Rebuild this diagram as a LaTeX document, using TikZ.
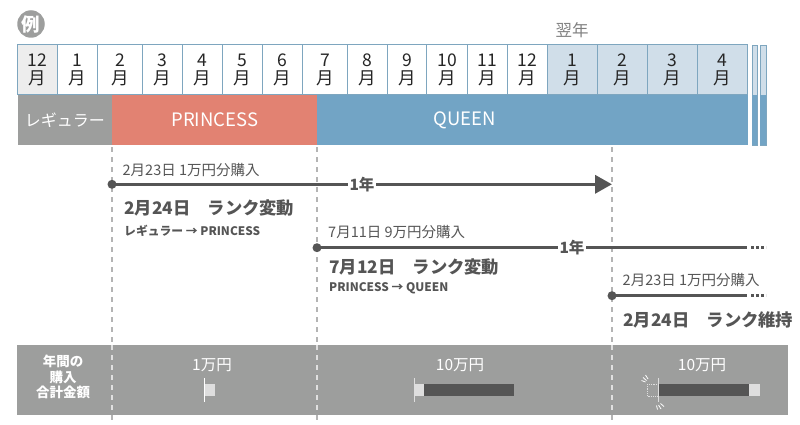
\documentclass[tikz,border=0pt]{standalone}
\usepackage{fontspec}
\setmainfont{Noto Sans CJK JP}
\usetikzlibrary{arrows.meta}
\definecolor{regular}{HTML}{9D9E9D}
\definecolor{princess}{HTML}{E28272}
\definecolor{queen}{HTML}{72A4C5}
\definecolor{cellline}{HTML}{7EA6BF}
\definecolor{nextyear}{HTML}{D0DEE9}
\definecolor{ink}{HTML}{555555}
\definecolor{guide}{HTML}{B4B4B4}
\tikzset{
  monthcell/.style={draw=cellline, line width=1pt, minimum height=50pt, inner sep=0pt, align=center,
    font=\fontsize{17.5}{18.5}\selectfont, text=black!85},
  rankbar/.style={anchor=north west, minimum height=50pt, inner sep=0pt, text=white,
    font=\fontsize{16}{18}\selectfont},
  buyline/.style={draw=ink, line width=3.5pt},
  buydot/.style={circle, fill=ink, minimum size=9pt, inner sep=0pt},
  yearlbl/.style={fill=white, inner sep=1.5pt, text=ink, font=\bfseries\fontsize{15.5}{16}\selectfont},
  small/.style={anchor=west, inner sep=0pt, text=ink, font=\fontsize{14.5}{15}\selectfont},
  rankchg/.style={anchor=west, inner sep=0pt, text=ink, font=\bfseries\fontsize{17.3}{18}\selectfont},
  rankpath/.style={anchor=west, inner sep=0pt, text=ink, font=\bfseries\fontsize{11.8}{12}\selectfont},
  sumlbl/.style={inner sep=0pt, text=white, font=\fontsize{15.5}{16}\selectfont},
  trail/.style={draw=ink, line width=3.5pt, dash pattern=on 2.5pt off 2.5pt}
}
\begin{document}
\begin{tikzpicture}[x=1pt, y=-1pt]
  \useasboundingbox (0,0) rectangle (800,425);
  % heading
  \node[circle, fill=regular, minimum size=27.5pt, inner sep=0pt, text=white, font=\bfseries\fontsize{18.5}{18.5}\selectfont] (ex) at (31,24) {例};
  \node[text=black!50, font=\fontsize{16.5}{17}\selectfont] (nxt) at (572,30) {翌年};
  % months
  \foreach \l/\r/\t/\c [count=\i] in {17.3/57.3/12/black!7, 57.3/97.3/1/white, 97.3/142.7/2/white,
      142.7/182.7/3/white, 182.7/222.7/4/white, 222.7/262.7/5/white, 262.7/302.7/6/white,
      302.7/347.7/7/white, 347.7/387.7/8/white, 387.7/426.7/9/white, 426.7/467.3/10/white,
      467.3/507.3/11/white, 507.3/547.3/12/white, 547.3/597.3/1/nextyear, 597.3/647.3/2/nextyear,
      647.3/697.3/3/nextyear, 697.3/747.7/4/nextyear}
    \node[monthcell, fill=\c, minimum width={\r-\l}] (m\i) at ({(\l+\r)/2},70) {\t\\月};
  \fill[nextyear] (751.7,45) rectangle (756.7,95);
  \fill[nextyear] (760,45) rectangle (765.7,95);
  \draw[cellline] (751.7,45) rectangle (756.7,145);
  \draw[cellline] (760,45) rectangle (765.7,145);
  % ranks
  \fill[queen] (317,95) rectangle (747.7,145);
  \fill[queen] (751.7,95) rectangle (756.7,145);
  \fill[queen] (760,95) rectangle (765.7,145);
  \node[rankbar, fill=regular, minimum width=94.7pt] (reg) at (17.3,95) {レギュラー};
  \node[rankbar, fill=princess, minimum width=205pt, font=\fontsize{18.5}{18}\selectfont] (prn) at (112,95) {PRINCESS};
  \node[text=white, font=\fontsize{18.5}{18}\selectfont] (qn) at (464.5,120) {QUEEN};
  % yearly total bar
  \fill[regular] (17.3,345) rectangle (788,415);
  % guides
  \foreach \x in {112,317,612} {
    \draw[guide, line width=1.5pt, dash pattern=on 5pt off 5pt] (\x,147) -- (\x,345);
    \draw[black!12, line width=1.5pt, dash pattern=on 5pt off 5pt] (\x,345) -- (\x,415);
    \draw[guide, line width=1.5pt, dash pattern=on 5pt off 5pt] (\x,415) -- (\x,425);
  }
  % purchases
  \node[buydot] (b1) at (112,184.3) {};
  \coordinate (e1) at (612,184.3);
  \draw[buyline, -{Triangle[length=17pt, width=18pt]}] (b1.center) -- node[yearlbl]{1年} (e1);
  \node[small] (t1) at (122.5,170) {2月23日 1万円分購入};
  \node[rankchg] (r1) at (124,208) {2月24日　ランク変動};
  \node[rankpath] (p1) at (124,231) {レギュラー → PRINCESS};

  \node[buydot] (b2) at (317,247.7) {};
  \coordinate (e2) at (747,247.7);
  \coordinate (f2) at (766,247.7);
  \draw[buyline] (b2.center) -- node[yearlbl, pos=0.593]{1年} (e2);
  \draw[trail] (e2) ++(4,0) -- (f2);
  \node[small] (t2) at (328,232.5) {7月11日 9万円分購入};
  \node[rankchg] (r2) at (329,267) {7月12日　ランク変動};
  \node[rankpath] (p2) at (329,288) {PRINCESS → QUEEN};

  \node[buydot] (b3) at (612,295.7) {};
  \coordinate (e3) at (747,295.7);
  \coordinate (f3) at (766,295.7);
  \draw[buyline] (b3.center) -- (e3);
  \draw[trail] (e3) ++(4,0) -- (f3);
  \node[small] (t3) at (622.5,280.5) {2月23日 1万円分購入};
  \node[rankchg] (r3) at (623,319.5) {2月24日　ランク維持};
  % totals
  \node[align=center, text=white, font=\bfseries\fontsize{13.5}{15.5}\selectfont] (sum) at (63,377) {年間の\\購入\\合計金額};
  \node[sumlbl] (s1) at (212,365) {1万円};
  \node[sumlbl] (s2) at (460,365) {10万円};
  \node[sumlbl] (s3) at (702,365) {10万円};
  \fill[black!13] (205,384) rectangle (215,396);
  \draw[white, line width=1pt] (204,378) -- (204,402);
  \fill[black!13] (414,384) rectangle (424,396);
  \fill[ink] (424,384) rectangle (514,396);
  \draw[black!13, line width=1pt] (414,378) -- (414,402);
  \draw[black!13, line width=0.8pt, densely dotted] (647,384) rectangle (658,396);
  \fill[ink] (659,384) rectangle (749,396);
  \fill[black!13] (749,384) rectangle (760,396);
  \draw[black!13, line width=1pt] (658,378) -- (658,402);
  \draw[white, line width=0.8pt] (643,377.5) -- (646.5,380.5) (645.5,375) -- (648,379) (641.5,380.5) -- (645.5,382);
  \draw[white, line width=0.8pt] (660.5,403.5) -- (664,406.5) (658.5,405) -- (661,409) (656.5,405.5) -- (657.5,409.5);
\end{tikzpicture}
\end{document}
